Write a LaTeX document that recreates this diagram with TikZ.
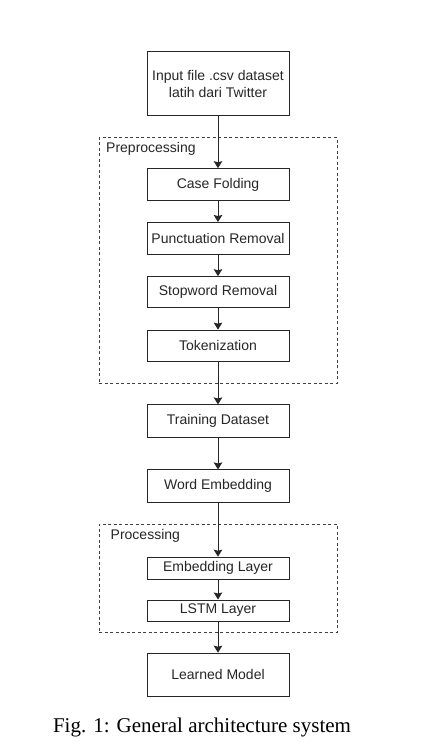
\documentclass[tikz,border=0pt]{standalone}
\usepackage{fontspec}
\setmainfont{Liberation Serif}
\setsansfont{Liberation Sans}
\usepackage{xcolor}
\usetikzlibrary{arrows,shapes,positioning,fit,arrows.meta,backgrounds,calc}

\begin{document}
\begin{tikzpicture}[x=1pt,y=1pt,
  block/.style={draw=black!85,line width=1pt,minimum width=142pt,inner sep=2pt,align=center,
    font=\sffamily\fontsize{14}{17}\selectfont,text=black!85},
  group/.style={draw=black!75,line width=0.9pt,dash pattern=on 3pt off 2.5pt,minimum width=238pt},
  grouplabel/.style={anchor=west,inner sep=0pt,font=\sffamily\fontsize{14}{17}\selectfont,text=black!85},
  flow/.style={draw=black!85,line width=1pt,-{Stealth[length=7pt,width=8.5pt,inset=1pt]}}]
\useasboundingbox (0,0) rectangle (442,-752);

\node[group,minimum height=245.5pt] (prepbox) at (218,-260.3) {};
\node[grouplabel] (preplabel) at (106,-149) {Preprocessing};
\node[group,minimum height=108pt] (procbox) at (218,-578) {};
\node[grouplabel] (proclabel) at (110.5,-536) {Processing};

\node[block,minimum height=63pt] (input) at (218,-83.5) {Input file .csv dataset\\latih dari Twitter};
\node[block,minimum height=32pt] (casefold) at (218,-184.7) {Case Folding};
\node[block,minimum height=31.5pt] (punct) at (218,-238.3) {Punctuation Removal};
\node[block,minimum height=31pt] (stopword) at (218,-292.2) {Stopword Removal};
\node[block,minimum height=31.5pt] (token) at (218,-345.9) {Tokenization};
\node[block,minimum height=32.7pt] (train) at (218,-421.3) {Training Dataset};
\node[block,minimum height=32.7pt] (wordemb) at (218,-486.3) {Word Embedding};
\node[block,minimum height=22pt] (emblayer) at (218,-568.2) {Embedding Layer};
\node[block,minimum height=21pt] (lstm) at (218,-610.5) {LSTM Layer};
\node[block,minimum height=43pt] (model) at (218,-674.7) {Learned Model};

\node[font=\fontsize{21}{25}\selectfont,inner sep=0pt] (caption) at (202,-727) {Fig. 1: General architecture system};

\draw[flow] (input) -- (casefold);
\draw[flow] (casefold) -- (punct);
\draw[flow] (punct) -- (stopword);
\draw[flow] (stopword) -- (token);
\draw[flow] (token) -- (train);
\draw[flow] (train) -- (wordemb);
\draw[flow] (wordemb) -- (emblayer);
\draw[flow] (emblayer) -- (lstm);
\draw[flow] (lstm) -- (model);
\end{tikzpicture}
\end{document}
